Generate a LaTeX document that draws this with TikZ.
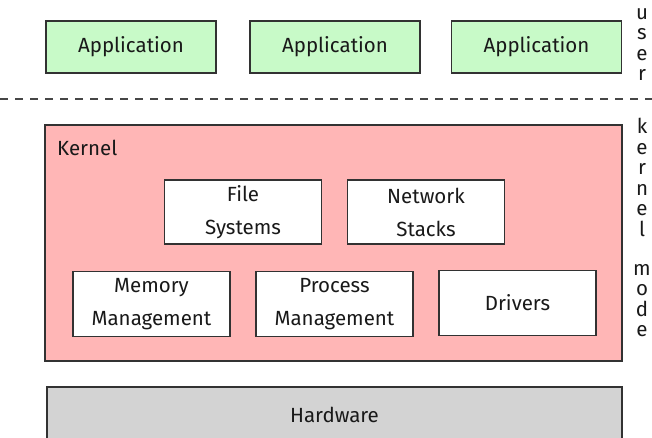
\documentclass[tikz,border=0pt]{standalone}
\usepackage{fontspec}
\setmainfont{Fira Sans}
\definecolor{appgreen}{RGB}{200,250,200}
\definecolor{kernpink}{RGB}{255,182,182}
\definecolor{hwgray}{RGB}{211,211,211}
\definecolor{edge}{RGB}{50,50,50}
\definecolor{txt}{RGB}{25,25,25}
\begin{document}
\begin{tikzpicture}[x=1pt,y=-1pt,
  box/.style={draw=edge, line width=1.3pt, rectangle, inner sep=0pt, text=txt,
    font=\fontsize{20.5}{33}\selectfont, align=center},
  appbox/.style={box, fill=appgreen, minimum width=170pt, minimum height=52pt},
  subbox/.style={box, fill=white, minimum width=157pt, minimum height=65pt},
  side/.style={inner sep=0pt, text=txt, font=\fontsize{20.5}{20.5}\selectfont, align=center, anchor=north}
]
\useasboundingbox (0,0) rectangle (652,438);
\node[appbox] (app1) at (131,47) {Application};
\node[appbox] (app2) at (335,47) {Application};
\node[appbox] (app3) at (536.5,47) {Application};
\coordinate (dl) at (0,99);
\coordinate (dr) at (652,99);
\draw[edge!90, line width=1.3pt, dash pattern=on 8pt off 7pt] (dl) -- (dr);
\node[box, fill=kernpink, minimum width=577pt, minimum height=236pt] (kernel) at (333.5,243) {};
\node[inner sep=0pt, anchor=base west, text=txt, font=\fontsize{20.5}{23}\selectfont] (klabel) at (57,156) {Kernel};
\node[subbox, minimum height=64pt] (fs) at (243,212) {File\\Systems};
\node[subbox, minimum height=64pt] (net) at (426,212) {Network\\Stacks};
\node[subbox] (mem) at (151.5,304) {Memory\\Management};
\node[subbox] (proc) at (334.5,304) {Process\\Management};
\node[subbox] (drv) at (517.5,303) {Drivers};
\node[box, fill=hwgray, minimum width=575pt, minimum height=56pt] (hw) at (334.5,415) {Hardware};
\node[side] (user) at (642,8) {u\\s\\e\\r};
\node[side] (kern) at (642,118) {k\\e\\r\\n\\e\\l};
\node[side] (mode) at (642,264) {m\\o\\d\\e};
\end{tikzpicture}
\end{document}
